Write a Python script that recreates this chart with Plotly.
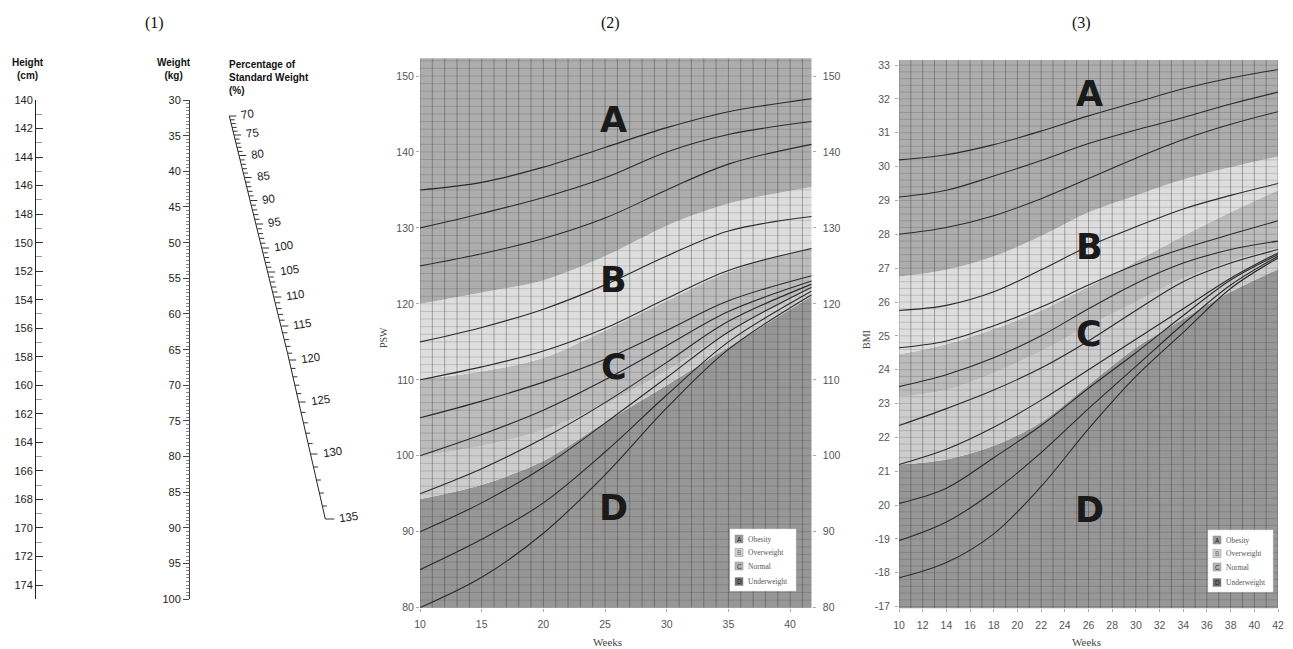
import numpy as np
import plotly.graph_objects as go

W, H = 1293, 649

# ---------------- Panel (2): PSW vs gestational weeks ----------------
psw_weeks = [10, 15, 20, 25, 30, 35, 41.75]
psw_line_135 = [135.0, 136.0, 138.0, 140.6, 143.2, 145.3, 147.0]
psw_line_130 = [130.0, 131.9, 134.0, 136.6, 140.0, 142.3, 144.0]
psw_line_125 = [125.0, 126.6, 128.6, 131.3, 135.0, 138.4, 141.0]
psw_line_115 = [115.0, 116.9, 119.3, 122.5, 126.3, 129.6, 131.5]
psw_line_110 = [110.0, 111.7, 113.8, 116.8, 120.7, 124.4, 127.3]
psw_line_105 = [105.0, 107.2, 109.7, 112.7, 116.5, 120.4, 123.7]
psw_line_100 = [100.0, 102.8, 106.0, 110.0, 114.5, 119.0, 123.0]
psw_line_95 = [95.0, 98.3, 102.3, 107.0, 112.3, 117.7, 122.6]
psw_line_90 = [90.0, 93.8, 98.5, 104.3, 110.3, 116.3, 122.2]
psw_line_85 = [85.0, 89.0, 93.8, 100.5, 108.0, 115.0, 121.7]
psw_line_80 = [80.0, 84.0, 89.8, 97.5, 106.3, 114.0, 121.2]
# zone boundaries (A/B, B/C, inner C band, C/D)
psw_zone_ab = [120.0, 121.5, 123.1, 126.3, 130.3, 133.2, 135.4]
psw_zone_bc = [110.1, 111.1, 112.9, 116.5, 120.4, 124.2, 127.5]
psw_zone_cc = [100.0, 101.3, 103.4, 106.8, 111.2, 116.3, 122.0]
psw_zone_cd = [94.3, 96.2, 99.3, 104.4, 109.3, 114.3, 121.0]
psw_range = [80, 152.33]
psw_ticks = [80, 90, 100, 110, 120, 130, 140, 150]
psw_week_ticks = [10, 15, 20, 25, 30, 35, 40]

# ---------------- Panel (3): BMI vs gestational weeks ----------------
bmi_weeks = [10, 14, 18, 22, 26, 30, 34, 38, 42]
bmi_line_1 = [30.2, 30.35, 30.65, 31.05, 31.5, 31.9, 32.3, 32.62, 32.87]
bmi_line_2 = [29.1, 29.3, 29.72, 30.18, 30.68, 31.08, 31.45, 31.85, 32.2]
bmi_line_3 = [28.0, 28.2, 28.55, 29.05, 29.65, 30.25, 30.8, 31.25, 31.62]
bmi_line_4 = [25.75, 25.9, 26.3, 26.95, 27.65, 28.22, 28.75, 29.15, 29.5]
bmi_line_5 = [24.65, 24.85, 25.3, 25.85, 26.5, 27.1, 27.58, 28.0, 28.4]
bmi_line_6 = [23.5, 23.85, 24.35, 25.0, 25.8, 26.55, 27.15, 27.55, 27.8]
bmi_line_7 = [22.35, 22.85, 23.4, 24.05, 24.85, 25.75, 26.6, 27.15, 27.55]
bmi_line_8 = [21.2, 21.65, 22.3, 23.1, 24.0, 24.9, 25.8, 26.7, 27.45]
bmi_line_9 = [20.05, 20.5, 21.4, 22.35, 23.45, 24.5, 25.6, 26.65, 27.4]
bmi_line_10 = [18.95, 19.5, 20.4, 21.55, 22.85, 24.1, 25.35, 26.5, 27.35]
bmi_line_11 = [17.85, 18.3, 19.15, 20.55, 22.25, 23.8, 25.1, 26.4, 27.3]
bmi_zone_ab = [26.75, 26.95, 27.35, 27.95, 28.65, 29.15, 29.62, 29.98, 30.3]
bmi_zone_bc = [24.45, 24.75, 25.2, 25.75, 26.45, 27.2, 27.95, 28.65, 29.3]
bmi_zone_cc = [23.2, 23.4, 23.9, 24.55, 25.3, 26.0, 26.7, 27.2, 27.6]
bmi_zone_cd = [21.2, 21.35, 21.75, 22.45, 23.55, 24.65, 25.5, 26.3, 26.97]
bmi_range = [16.95, 33.15]
bmi_ticks = list(range(17, 34))
bmi_tick_text = ["-17", "-18", "-19"] + [str(v) for v in range(20, 34)]
bmi_week_ticks = list(range(10, 43, 2))

# ---------------- Panel (1): nomogram scales ----------------
height_range = [175, 140]
weight_range = [100, 30]
pct_major = [70, 75, 80, 85, 90, 95, 100, 105, 110, 115, 120, 125, 130, 135]
pct_major_ypix = [116, 135, 155.5, 177.5, 200.5, 224, 248, 272, 297, 326, 360, 402, 454, 519]
pct_path_y = [116, 320, 520.7]
pct_path_x = [229.3, 280, 325.7]

zone_labels = ["Obesity", "Overweight", "Normal", "Underweight"]
zone_letters = ["A", "B", "C", "D"]

# ---------------- styles ----------------
COL_A, COL_B, COL_C1, COL_C2, COL_D = "#adadad", "#dedede", "#bcbcbc", "#cdcdcd", "#979797"
LEG_COLS = ["#9a9a9a", "#d4d4d4", "#b8b8b8", "#6e6e6e"]
SANS = "Liberation Sans, Arial, sans-serif"
SERIF = "Liberation Serif, Times New Roman, serif"
GRID_V = "rgba(45,45,45,0.36)"
GRID_H = "rgba(45,45,45,0.18)"


def px(x):
    return x / W


def py(y):
    return 1 - y / H


fig = go.Figure()
annotations = []


def note(x, y, text, font, xref="paper", yref="paper", xanchor="center", yanchor="middle", **kw):
    if xref == "paper":
        x = px(x)
    if yref == "paper":
        y = py(y)
    d = dict(x=x, y=y, xref=xref, yref=yref, text=text, showarrow=False, font=font,
             xanchor=xanchor, yanchor=yanchor)
    d.update(kw)
    annotations.append(d)


def add_zones(xa, ya, weeks, lo, hi, bounds, colors):
    fig.add_trace(go.Scatter(x=[weeks[0], weeks[-1]], y=[lo, lo], mode="lines",
                             line=dict(width=0), xaxis=xa, yaxis=ya,
                             hoverinfo="skip", showlegend=False))
    for b, c in zip(bounds + [[hi] * len(weeks)], colors):
        fig.add_trace(go.Scatter(x=weeks, y=b, mode="lines",
                                 line=dict(width=0, shape="spline", smoothing=0.9),
                                 fill="tonexty", fillcolor=c, xaxis=xa, yaxis=ya,
                                 hoverinfo="skip", showlegend=False))


def add_grid(xa, ya, xvals, yvals, xr, yr):
    X, Y = [], []
    for v in xvals:
        X += [v, v, None]
        Y += [yr[0], yr[1], None]
    fig.add_trace(go.Scatter(x=X, y=Y, mode="lines", line=dict(color=GRID_V, width=1),
                             xaxis=xa, yaxis=ya, hoverinfo="skip", showlegend=False))
    X, Y = [], []
    for v in yvals:
        X += [xr[0], xr[1], None]
        Y += [v, v, None]
    fig.add_trace(go.Scatter(x=X, y=Y, mode="lines", line=dict(color=GRID_H, width=1),
                             xaxis=xa, yaxis=ya, hoverinfo="skip", showlegend=False))


def add_curves(xa, ya, weeks, lines):
    for ln in lines:
        fig.add_trace(go.Scatter(x=weeks, y=ln, mode="lines",
                                 line=dict(color="#2b2b2b", width=1.1, shape="spline", smoothing=1.0),
                                 xaxis=xa, yaxis=ya, hoverinfo="skip", showlegend=False))


# ---- panel 2 ----
add_zones("x", "y", psw_weeks, 79, 154,
          [psw_zone_cd, psw_zone_cc, psw_zone_bc, psw_zone_ab],
          [COL_D, COL_C2, COL_C1, COL_B, COL_A])
add_grid("x", "y", np.arange(10, 42, 1), np.arange(80, 153, 1), [10, 41.75], psw_range)
add_curves("x", "y", psw_weeks,
           [psw_line_135, psw_line_130, psw_line_125, psw_line_115, psw_line_110,
            psw_line_105, psw_line_100, psw_line_95, psw_line_90, psw_line_85, psw_line_80])
fig.add_trace(go.Scatter(x=[10], y=[100], mode="markers", marker=dict(opacity=0),
                         xaxis="x", yaxis="y2", hoverinfo="skip", showlegend=False))

# ---- panel 3 ----
add_zones("x3", "y3", bmi_weeks, 16.5, 33.5,
          [bmi_zone_cd, bmi_zone_cc, bmi_zone_bc, bmi_zone_ab],
          [COL_D, COL_C2, COL_C1, COL_B, COL_A])
add_grid("x3", "y3", np.arange(10, 43, 1), np.round(np.arange(17, 33.2, 0.2), 2),
         [10, 42], bmi_range)
add_curves("x3", "y3", bmi_weeks,
           [bmi_line_1, bmi_line_2, bmi_line_3, bmi_line_4, bmi_line_5, bmi_line_6,
            bmi_line_7, bmi_line_8, bmi_line_9, bmi_line_10, bmi_line_11])

# ---- nomogram: height and weight axes ----
fig.add_trace(go.Scatter(x=[0], y=[150], mode="markers", marker=dict(opacity=0),
                         xaxis="x4", yaxis="y4", hoverinfo="skip", showlegend=False))
fig.add_trace(go.Scatter(x=[0], y=[50], mode="markers", marker=dict(opacity=0),
                         xaxis="x5", yaxis="y5", hoverinfo="skip", showlegend=False))

# ---- nomogram: slanted percentage scale ----
pct_all = np.arange(70, 136, 1)
pct_y = np.interp(pct_all, pct_major, pct_major_ypix)
pct_x = np.interp(pct_y, pct_path_y, pct_path_x)
fig.add_trace(go.Scatter(x=pct_x, y=pct_y, mode="lines", line=dict(color="#222", width=1),
                         xaxis="x6", yaxis="y6", hoverinfo="skip", showlegend=False))
TX, TY = [], []
for v, xx, yy in zip(pct_all, pct_x, pct_y):
    ln = 7 if v % 5 == 0 else 4.5
    if v == 135:
        ln = 9
    TX += [xx, xx + ln, None]
    TY += [yy, yy, None]
fig.add_trace(go.Scatter(x=TX, y=TY, mode="lines", line=dict(color="#333", width=1),
                         xaxis="x6", yaxis="y6", hoverinfo="skip", showlegend=False))

for v in pct_major:
    yy = float(np.interp(v, pct_major, pct_major_ypix))
    xx = float(np.interp(yy, pct_path_y, pct_path_x))
    off = 11 if v == 135 else 9
    note(xx + off, yy - 2, str(v), dict(family=SANS, size=11.5, color="#222"),
         xref="x6", yref="y6", xanchor="left", textangle=-8)

# ---- titles ----
for txt, x, y in [("(1)", 154, 23), ("(2)", 610, 23), ("(3)", 1081, 23)]:
    note(x, y, txt, dict(family=SERIF, size=16, color="#111"))
note(28, 69, "<b>Height</b><br><b>(cm)</b>", dict(family=SANS, size=10, color="#111"))
note(174, 69, "<b>Weight</b><br><b>(kg)</b>", dict(family=SANS, size=10, color="#111"))
note(227, 77, "<b>Percentage of</b><br><b>Standard Weight</b><br><b>(%)</b>",
     dict(family=SANS, size=10, color="#111"), xanchor="left", align="left")
note(383, 338, "PSW", dict(family=SERIF, size=10, color="#444"), textangle=-90)
note(866, 340, "BMI", dict(family=SERIF, size=10, color="#444"), textangle=-90)
for x in (607, 1086):
    note(x, 642, "Weeks", dict(family=SERIF, size=11, color="#444"))

# ---- big zone letters ----
BIG = dict(family="DejaVu Sans, Liberation Sans", size=35, color="#1a1a1a")
for L, yv in zip(zone_letters, [144.2, 123.1, 111.7, 93.1]):
    note(25.7, yv, "<b>%s</b>" % L, BIG, xref="x", yref="y")
for L, yv in zip(zone_letters, [32.16, 27.63, 25.05, 19.85]):
    note(26.07, yv, "<b>%s</b>" % L, BIG, xref="x3", yref="y3")

# ---- legend boxes ----
shapes = []
for (bx0, by0, bx1, by1) in [(730, 529, 796, 591), (1208, 530, 1273, 592)]:
    shapes.append(dict(type="rect", xref="paper", yref="paper", x0=px(bx0), x1=px(bx1),
                       y0=py(by1), y1=py(by0), fillcolor="white",
                       line=dict(color="#dddddd", width=0.5), layer="above"))
    rows = [by0 + 10, by0 + 23.5, by0 + 37, by0 + 52.5]
    for i, (L, lab) in enumerate(zip(zone_letters, zone_labels)):
        cy = rows[i]
        shapes.append(dict(type="rect", xref="paper", yref="paper",
                           x0=px(bx0 + 5), x1=px(bx0 + 13), y0=py(cy + 4), y1=py(cy - 4),
                           fillcolor=LEG_COLS[i], line=dict(color="#888", width=0.5),
                           layer="above"))
        note(bx0 + 9, cy, L, dict(family=SANS, size=6.5, color="#222" if i != 1 else "#666"))
        note(bx0 + 16, cy, lab, dict(family=SERIF, size=7.5, color="#555"), xanchor="left")

TICKFONT = dict(family=SANS, size=10.5, color="#555")
NOMOFONT = dict(family=SANS, size=11, color="#222")

fig.update_layout(
    width=W, height=H, margin=dict(l=0, r=0, t=0, b=0, pad=0), autosize=False,
    paper_bgcolor="white", plot_bgcolor="rgba(0,0,0,0)", showlegend=False,
    annotations=annotations, shapes=shapes,
    # panel 2
    xaxis=dict(domain=[px(420), px(811.7)], range=[10, 41.75], tickvals=psw_week_ticks,
               showgrid=False, zeroline=False, ticks="outside", ticklen=3, tickcolor="#aaa",
               tickfont=TICKFONT, anchor="y", ticklabelstandoff=4, automargin=False),
    yaxis=dict(domain=[py(607.7), py(58.3)], range=psw_range, tickvals=psw_ticks,
               showgrid=False, zeroline=False, ticks="outside", ticklen=3, tickcolor="#aaa",
               tickfont=TICKFONT, anchor="x", automargin=False),
    yaxis2=dict(overlaying="y", side="right", anchor="x", range=psw_range, tickvals=psw_ticks,
                showgrid=False, zeroline=False, ticks="outside", ticklen=3, tickcolor="#aaa",
                tickfont=TICKFONT, ticklabelstandoff=5, automargin=False),
    # panel 3
    xaxis3=dict(domain=[px(899), px(1278)], range=[10, 42], tickvals=bmi_week_ticks,
                showgrid=False, zeroline=False, ticks="outside", ticklen=3, tickcolor="#aaa",
                tickfont=TICKFONT, anchor="y3", ticklabelstandoff=4, automargin=False),
    yaxis3=dict(domain=[py(608.3), py(60)], range=bmi_range, tickvals=bmi_ticks,
                ticktext=bmi_tick_text, showgrid=False, zeroline=False, ticks="outside",
                ticklen=3, tickcolor="#aaa", tickfont=TICKFONT, anchor="x3",
                ticklabelstandoff=3, automargin=False),
    # height scale
    xaxis4=dict(domain=[px(36), px(60)], range=[0, 1], visible=False, anchor="y4"),
    yaxis4=dict(domain=[py(599.3), py(100)], range=height_range, anchor="x4", side="left",
                showline=True, linecolor="#222", linewidth=1, ticks="inside", ticklen=7,
                tickcolor="#333", tick0=140, dtick=2, showgrid=False, zeroline=False,
                tickfont=NOMOFONT, automargin=False,
                minor=dict(ticks="inside", ticklen=6, dtick=1, tick0=140, tickcolor="#999",
                           showgrid=False)),
    # weight scale
    xaxis5=dict(domain=[px(190), px(210)], range=[0, 1], visible=False, anchor="y5"),
    yaxis5=dict(domain=[py(599.3), py(100)], range=weight_range, anchor="x5", side="left",
                showline=True, linecolor="#444", linewidth=1, ticks="outside", ticklen=6,
                tickcolor="#444", tick0=30, dtick=5, showgrid=False, zeroline=False,
                tickfont=NOMOFONT, automargin=False,
                minor=dict(ticks="outside", ticklen=3.5, dtick=0.5, tick0=30,
                           tickcolor="#888", showgrid=False)),
    # pixel space for slanted scale
    xaxis6=dict(domain=[0, px(400)], range=[0, 400], visible=False, anchor="y6"),
    yaxis6=dict(domain=[0, 1], range=[649, 0], visible=False, anchor="x6"),
)

fig.write_html("out.html")
